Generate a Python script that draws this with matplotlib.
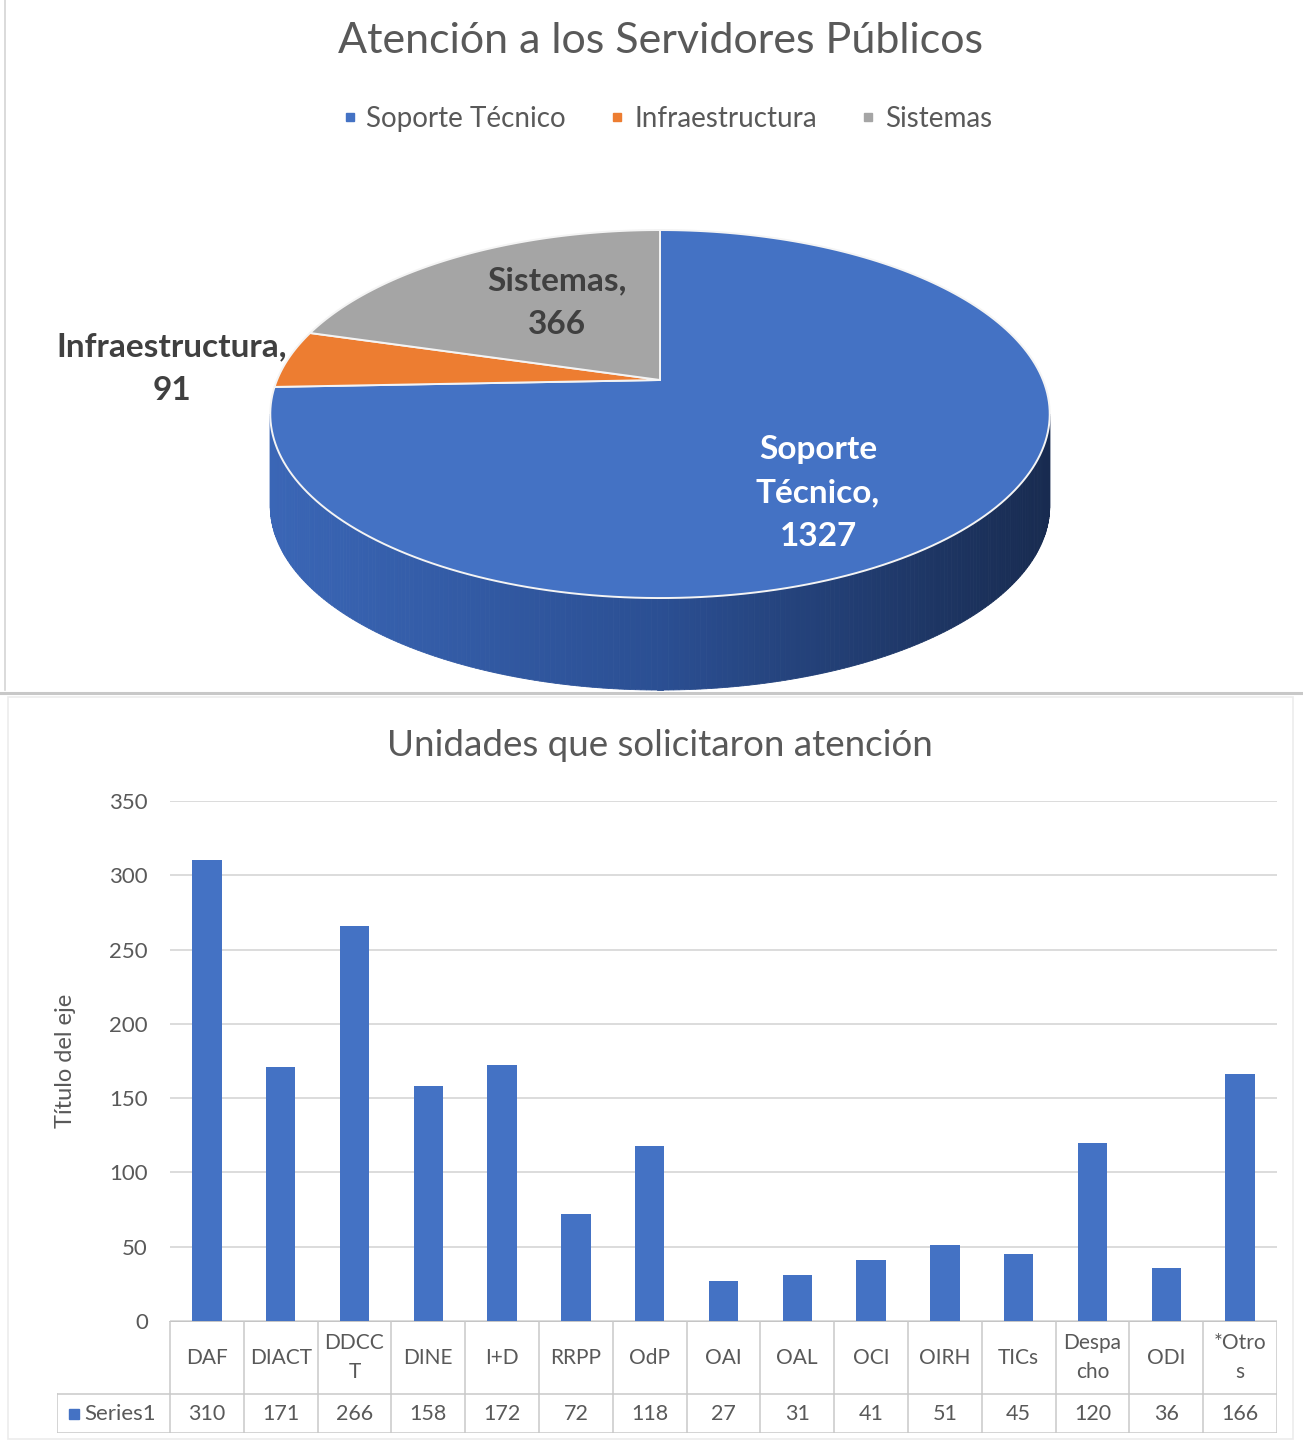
import numpy as np
import matplotlib
matplotlib.use("Agg")
import matplotlib.pyplot as plt
from matplotlib.patches import Polygon, Rectangle
from matplotlib.lines import Line2D
from matplotlib.colors import to_rgb

plt.rcParams['font.family'] = ['Lato', 'DejaVu Sans']

# ---- data -------------------------------------------------------------
pie_title = "Atención a los Servidores Públicos"
pie_labels = ["Soporte Técnico", "Infraestructura", "Sistemas"]
pie_values = [1327, 91, 366]
pie_colors = ["#4472c4", "#ed7d31", "#a5a5a5"]

bar_title = "Unidades que solicitaron atención"
units = ["DAF", "DIACT", "DDCC\nT", "DINE", "I+D", "RRPP", "OdP", "OAI",
         "OAL", "OCI", "OIRH", "TICs", "Despa\ncho", "ODI", "*Otro\ns"]
counts = [310, 171, 266, 158, 172, 72, 118, 27, 31, 41, 51, 45, 120, 36, 166]
series_name = "Series1"
y_ticks = [0, 50, 100, 150, 200, 250, 300, 350]
y_label = "Título del eje"

TEXT = "#595959"
GRID = "#d9d9d9"
BAR = "#4472c4"

W, H = 1303, 1443
fig = plt.figure(figsize=(W / 100, H / 100), dpi=100)

# full-figure canvas in pixel units (y grows downward)
canvas = fig.add_axes([0, 0, 1, 1])
canvas.set_xlim(0, W)
canvas.set_ylim(H, 0)
canvas.axis('off')

# panel frames
canvas.plot([5, 5], [0, 690], color="#d4d4d4", lw=1.2)
canvas.plot([0, W], [693, 693], color="#c8c8c8", lw=2.2)
canvas.add_patch(Rectangle((8, 697), 1285, 742, fill=False, ec="#ececec", lw=1.2))

# ---- 3D pie -------------------------------------------------------------
CX, CY = 660, 380            # pie centre on screen
A, B, K = 383, 177.7, 0.185  # radii and perspective factor
DEPTH = 92


def proj(phi_deg):
    p = np.radians(phi_deg)
    u, v = np.cos(p), np.sin(p)
    d = 1 + K * v
    return CX + A * u / d, CY - B * v / d


total = float(sum(pie_values))
starts, ends = [], []
a0 = 90.0
for v in pie_values:
    sweep = 360.0 * v / total
    starts.append(a0)
    ends.append(a0 - sweep)
    a0 -= sweep

# side wall (front half), shaded from left to right
lim = np.degrees(np.arcsin(K))
phis = np.linspace(180 + lim, 360 - lim, 240)
c_left = np.array(to_rgb("#3a66b6"))
c_mid = np.array(to_rgb("#2b4f93"))
c_right = np.array(to_rgb("#182b50"))
for i in range(len(phis) - 1):
    x1, y1 = proj(phis[i])
    x2, y2 = proj(phis[i + 1])
    t = ((x1 + x2) / 2 - (CX - 390)) / 780.0
    if t < 0.5:
        col = c_left + (c_mid - c_left) * (t / 0.5)
    else:
        col = c_mid + (c_right - c_mid) * ((t - 0.5) / 0.5)
    canvas.add_patch(Polygon([(x1, y1), (x2, y2), (x2, y2 + DEPTH), (x1, y1 + DEPTH)],
                             closed=True, fc=col, ec=col, lw=0.6, zorder=2))

# top face
for s, e, c in zip(starts, ends, pie_colors):
    arc = np.linspace(s, e, 200)
    pts = [(CX, CY)] + [proj(a) for a in arc]
    canvas.add_patch(Polygon(pts, closed=True, fc=c, ec="#f4f4f4", lw=1.4,
                             joinstyle='round', zorder=3))

# data labels
lab_kw = dict(ha='center', va='center', fontsize=24, fontweight='bold',
              linespacing=1.6, zorder=5)
canvas.text(557, 303, f"{pie_labels[2]},\n{pie_values[2]}", color="#404040", **lab_kw)
canvas.text(172, 369, f"{pie_labels[1]},\n{pie_values[1]}", color="#404040", **lab_kw)
soporte = pie_labels[0].replace(" ", "\n")
canvas.text(818, 493, f"{soporte},\n{pie_values[0]}", color="white", **lab_kw)

canvas.text(660, 41, pie_title, ha='center', va='center', fontsize=31, color=TEXT)

handles = [Line2D([], [], marker='s', linestyle='', color=c, markersize=6) for c in pie_colors]
canvas.legend(handles, pie_labels, loc='center', ncol=3, frameon=False,
              bbox_to_anchor=(666 / W, 1 - 119 / H), bbox_transform=fig.transFigure,
              fontsize=20, labelcolor=TEXT, handletextpad=0.25, columnspacing=1.5,
              handlelength=0.7)

# ---- bar chart ----------------------------------------------------------
L, R = 170, 1277
Y0, Y350 = 1321, 801
ax = fig.add_axes([L / W, 1 - Y0 / H, (R - L) / W, (Y0 - Y350) / H])
ax.set_facecolor('none')
x = np.arange(len(units))
ax.bar(x, counts, width=0.4, color=BAR, zorder=3)
ax.set_xlim(-0.5, len(units) - 0.5)
ax.set_ylim(0, 350)
ax.set_yticks(y_ticks)
ax.set_xticks([])
ax.tick_params(axis='y', length=0, pad=16, labelsize=16, labelcolor=TEXT)
ax.grid(axis='y', color=GRID, lw=1.3, zorder=0)
for sp in ax.spines.values():
    sp.set_visible(False)
ax.set_ylabel(y_label, fontsize=17, color=TEXT)
ax.yaxis.set_label_coords((76 - L) / (R - L), 0.5)

canvas.text(660, 745, bar_title, ha='center', va='center', fontsize=26.5, color=TEXT)

# data table under the bars
colw = (R - L) / len(units)
TL, TB = 57, 1433
tab = fig.add_axes([TL / W, 1 - TB / H, (R - TL) / W, (TB - Y0) / H])
xmin = -0.5 - (L - TL) / colw
tab.set_xlim(xmin, len(units) - 0.5)
tab.set_ylim(TB - Y0, 0)
tab.axis('off')
hrow = 1394 - Y0
lc = "#c9c9c9"
tab.plot([-0.5, len(units) - 0.5], [0, 0], color="#bfbfbf", lw=1.3)
tab.plot([xmin, len(units) - 0.5], [hrow, hrow], color=lc, lw=1.1)
tab.plot([xmin, len(units) - 0.5], [TB - Y0, TB - Y0], color=lc, lw=1.1)
tab.plot([xmin, xmin], [hrow, TB - Y0], color=lc, lw=1.1)
for i in range(len(units) + 1):
    tab.plot([i - 0.5, i - 0.5], [0, TB - Y0], color=lc, lw=1.1)
for i, (u, n) in enumerate(zip(units, counts)):
    tab.text(i, hrow / 2, u, ha='center', va='center', fontsize=15, color=TEXT,
             linespacing=1.55)
    tab.text(i, (hrow + TB - Y0) / 2, str(n), ha='center', va='center', fontsize=15.5,
             color=TEXT)
mk_x = xmin + (74 - TL) / colw
tab.plot([mk_x], [(hrow + TB - Y0) / 2], marker='s', color=BAR, markersize=7)
tab.text(xmin + (84 - TL) / colw, (hrow + TB - Y0) / 2, series_name, ha='left',
         va='center', fontsize=16, color=TEXT)

fig.savefig("out.png", dpi=100, facecolor='white')
